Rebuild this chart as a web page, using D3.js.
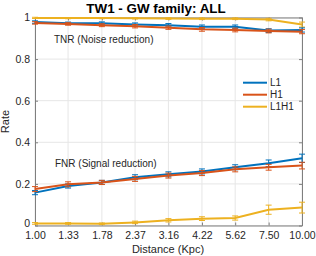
<!DOCTYPE html>
<html>
<head>
<meta charset="utf-8">
<script src="https://cdn.jsdelivr.net/npm/d3@7"></script>
<style>
  body { margin: 0; background: #fff; }
  text { font-family: "Liberation Sans", Arial, sans-serif; }
</style>
</head>
<body>
<div id="chart"></div>
<script>
// distances (Kpc) and tick labels
const distances = [1.00, 1.33, 1.78, 2.37, 3.16, 4.22, 5.62, 7.50, 10.00];
const tickLabels = ["1.00", "1.33", "1.78", "2.37", "3.16", "4.22", "5.62", "7.50", "10.00"];
const yTicks = [0, 0.2, 0.4, 0.6, 0.8, 1];

// TNR (noise reduction)
const tnrL1 = [0.978, 0.972, 0.972, 0.966, 0.963, 0.956, 0.956, 0.937, 0.940];
const tnrH1 = [0.974, 0.969, 0.963, 0.958, 0.951, 0.943, 0.940, 0.935, 0.932];
const tnrL1H1 = [0.998, 0.997, 0.997, 0.996, 0.995, 0.994, 0.994, 0.990, 0.966];
const tnrErrL1 = [0.006, 0.006, 0.007, 0.008, 0.008, 0.008, 0.008, 0.009, 0.010];
const tnrErrH1 = [0.006, 0.006, 0.007, 0.008, 0.008, 0.009, 0.009, 0.009, 0.010];
const tnrErrL1H1 = [0.003, 0.003, 0.003, 0.003, 0.004, 0.004, 0.004, 0.006, 0.012];

// FNR (signal reduction)
const fnrL1 = [0.158, 0.190, 0.207, 0.232, 0.246, 0.260, 0.280, 0.299, 0.323];
const fnrH1 = [0.175, 0.198, 0.207, 0.224, 0.240, 0.252, 0.270, 0.280, 0.288];
const fnrL1H1 = [0.010, 0.010, 0.008, 0.015, 0.025, 0.033, 0.036, 0.076, 0.086];
const fnrErrL1 = [0.010, 0.010, 0.010, 0.012, 0.012, 0.012, 0.012, 0.016, 0.020];
const fnrErrH1 = [0.012, 0.012, 0.010, 0.012, 0.012, 0.012, 0.012, 0.014, 0.016];
const fnrErrL1H1 = [0.004, 0.004, 0.004, 0.006, 0.008, 0.009, 0.010, 0.022, 0.026];

const seriesNames = ["L1", "H1", "L1H1"];
const colors = ["#0072BD", "#D95319", "#EDB120"];

const width = 316;
const height = 256;
const marginLeft = 35;
const marginRight = 14;
const marginTop = 17.5;
const marginBottom = 30.5;

const x = d3.scaleLog()
  .domain([1, 10])
  .range([marginLeft, width - marginRight]);

const y = d3.scaleLinear()
  .domain([0, 1])
  .range([height - marginBottom, marginTop]);

const svg = d3.select("#chart")
  .append("svg")
  .attr("width", width)
  .attr("height", height)
  .attr("viewBox", [0, 0, width, height]);

// grid
svg.append("g")
  .attr("stroke", "#e6e6e6")
  .attr("stroke-width", 1)
  .selectAll("line")
  .data(distances)
  .join("line")
  .attr("x1", d => x(d)).attr("x2", d => x(d))
  .attr("y1", y(0)).attr("y2", y(1));
svg.append("g")
  .attr("stroke", "#e6e6e6")
  .attr("stroke-width", 1)
  .selectAll("line")
  .data(yTicks)
  .join("line")
  .attr("x1", x(1)).attr("x2", x(10))
  .attr("y1", d => y(d)).attr("y2", d => y(d));

// axes
svg.append("g")
  .attr("transform", `translate(0,${y(0)})`)
  .call(d3.axisBottom(x).tickValues(distances)
    .tickFormat((d, i) => tickLabels[i]).tickSize(-3).tickSizeOuter(0).tickPadding(6));
svg.append("g")
  .attr("transform", `translate(${x(1)},0)`)
  .call(d3.axisLeft(y).tickValues(yTicks)
    .tickFormat(d => d === 0 || d === 1 ? d3.format("d")(d) : d3.format(".1f")(d))
    .tickSize(-3).tickSizeOuter(0).tickPadding(5))
  .call(g => g.selectAll(".tick text").attr("dy", (d) => d === 0 ? "0.1em" : "0.32em"));
// top & right box
svg.append("g")
  .attr("transform", `translate(${x(10)},0)`)
  .call(d3.axisRight(y).tickValues(yTicks).tickFormat("").tickSize(-3).tickSizeOuter(0));
svg.append("g")
  .attr("transform", `translate(0,${y(1)})`)
  .call(d3.axisTop(x).tickValues(distances).tickFormat("").tickSize(-3).tickSizeOuter(0));

svg.selectAll(".domain, .tick line").attr("stroke", "#7f7f7f");
svg.selectAll(".tick text").attr("fill", "#262626").attr("font-size", 10.5)
  .attr("font-family", "Liberation Sans, Arial, sans-serif");

const line = d3.line()
  .x((d, i) => x(distances[i]))
  .y(d => y(d));

function drawSeries(values, errs, color) {
  const g = svg.append("g");
  g.append("path")
    .datum(values)
    .attr("fill", "none")
    .attr("stroke", color)
    .attr("stroke-width", 2)
    .attr("d", line);
  const bars = g.selectAll("g")
    .data(values.map((v, i) => ({ v, e: errs[i], d: distances[i] })))
    .join("g")
    .attr("stroke", color)
    .attr("stroke-width", 1);
  bars.append("line")
    .attr("x1", d => x(d.d)).attr("x2", d => x(d.d))
    .attr("y1", d => y(d.v - d.e)).attr("y2", d => y(d.v + d.e));
  bars.append("line")
    .attr("x1", d => x(d.d) - 3).attr("x2", d => x(d.d) + 3)
    .attr("y1", d => y(d.v - d.e)).attr("y2", d => y(d.v - d.e));
  bars.append("line")
    .attr("x1", d => x(d.d) - 3).attr("x2", d => x(d.d) + 3)
    .attr("y1", d => y(d.v + d.e)).attr("y2", d => y(d.v + d.e));
}

drawSeries(tnrL1H1, tnrErrL1H1, colors[2]);
drawSeries(tnrL1, tnrErrL1, colors[0]);
drawSeries(tnrH1, tnrErrH1, colors[1]);
drawSeries(fnrL1H1, fnrErrL1H1, colors[2]);
drawSeries(fnrL1, fnrErrL1, colors[0]);
drawSeries(fnrH1, fnrErrH1, colors[1]);

// annotations
svg.append("text")
  .attr("x", 54).attr("y", 43)
  .attr("font-size", 10).attr("fill", "#262626")
  .text("TNR (Noise reduction)");
svg.append("text")
  .attr("x", 55).attr("y", 167)
  .attr("font-size", 10).attr("fill", "#262626")
  .text("FNR (Signal reduction)");

// legend
const legend = svg.append("g")
  .selectAll("g")
  .data(seriesNames)
  .join("g")
  .attr("transform", (d, i) => `translate(243,${82.7 + i * 12})`);
legend.append("line")
  .attr("x1", 0).attr("x2", 24)
  .attr("stroke", (d, i) => colors[i])
  .attr("stroke-width", 2);
legend.append("text")
  .attr("x", 27).attr("y", 3.5)
  .attr("font-size", 10).attr("fill", "#262626")
  .text(d => d);

// title and labels
svg.append("text")
  .attr("x", 156).attr("y", 12.5)
  .attr("text-anchor", "middle")
  .attr("font-size", 13.4).attr("font-weight", "bold").attr("fill", "#000")
  .text("TW1 - GW family: ALL");
svg.append("text")
  .attr("x", 168).attr("y", 253)
  .attr("text-anchor", "middle")
  .attr("font-size", 11).attr("fill", "#262626")
  .text("Distance (Kpc)");
svg.append("text")
  .attr("transform", `translate(9,${(y(0) + y(1)) / 2}) rotate(-90)`)
  .attr("text-anchor", "middle")
  .attr("font-size", 11).attr("fill", "#262626")
  .text("Rate");
</script>
</body>
</html>
